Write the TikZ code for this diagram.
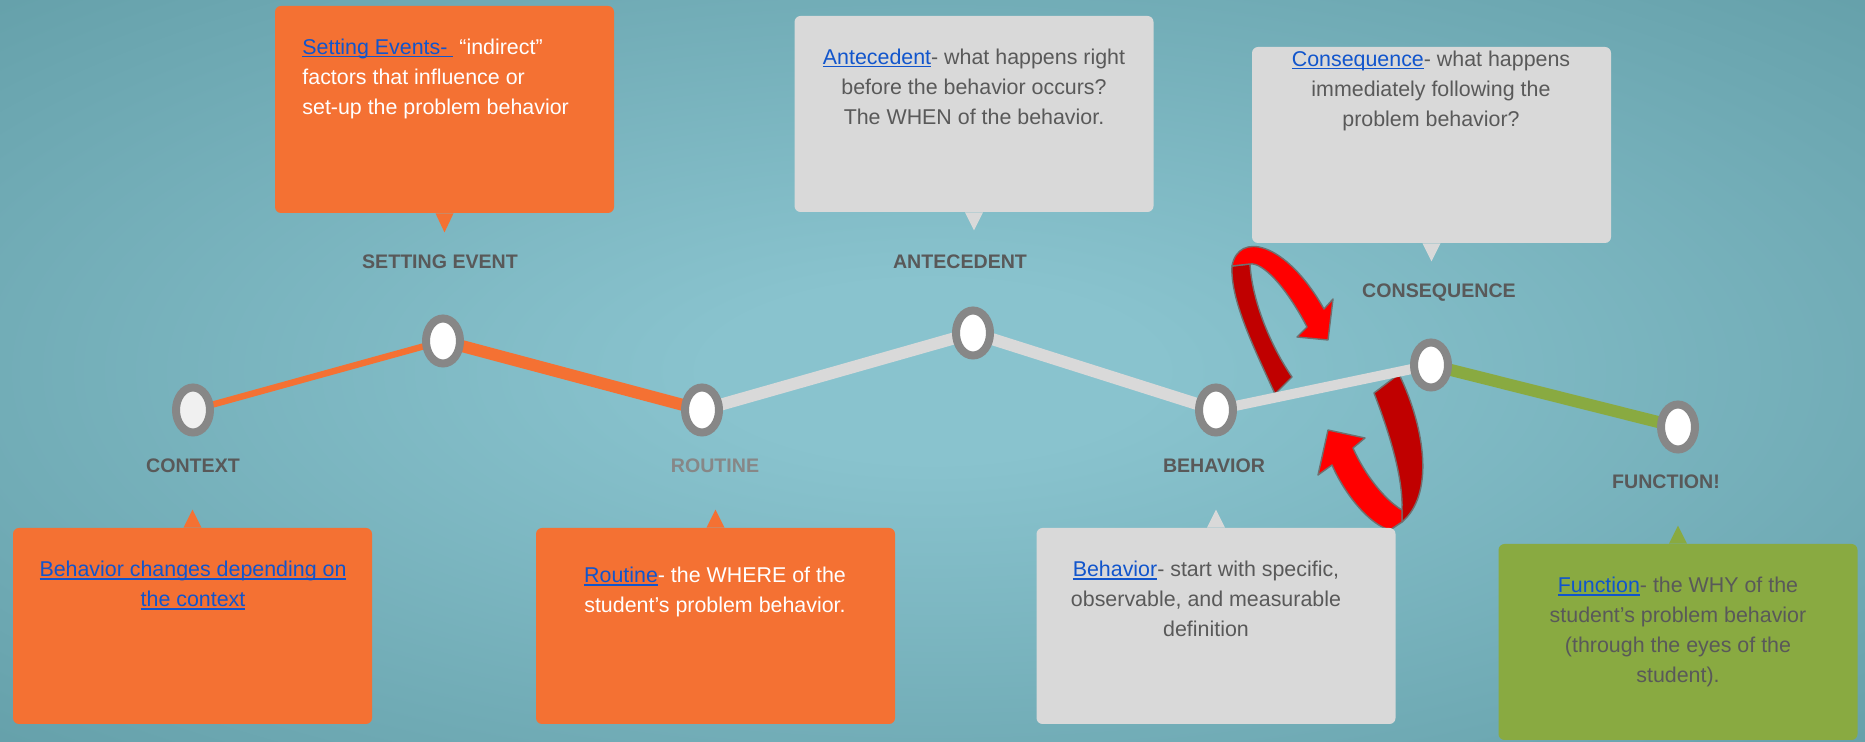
\documentclass[tikz,border=0pt]{standalone}
\usepackage{fontspec}
\setmainfont{Liberation Sans}
\usetikzlibrary{shapes.geometric}

\pgfdeclarelayer{back}
\pgfdeclarelayer{mid}
\pgfsetlayers{back,mid,main}

\definecolor{bginner}{HTML}{89C3CE}
\definecolor{bgouter}{HTML}{4E8A93}
\definecolor{abcorange}{HTML}{F47133}
\definecolor{abcgrey}{HTML}{D9D9D9}
\definecolor{abcgreen}{HTML}{89AA41}
\definecolor{txtgrey}{HTML}{595959}
\definecolor{ringgrey}{HTML}{878787}
\definecolor{linkblue}{HTML}{1155CC}
\definecolor{arrowred}{HTML}{FF0000}
\definecolor{arrowdark}{HTML}{C00000}
\definecolor{arrowedge}{HTML}{6F6F6F}

\pgfdeclareradialshading{bgglow}{\pgfpoint{0bp}{0bp}}{%
  color(0bp)=(bginner); color(6bp)=(bginner); color(55bp)=(bgouter); color(71bp)=(bgouter)}

% underlined link text
\newcommand{\lnk}[1]{{\color{linkblue}\setbox0\hbox{#1}\rlap{\rule[-1.3pt]{\wd0}{0.6pt}}\box0}}

\tikzset{%
	stage/.style={
		ellipse,
		draw=ringgrey,
		fill=white,
		line width=4pt,
		minimum width=17pt,
		minimum height=22.5pt,
		inner sep=0pt
	},
	stagelabel/.style={
		font=\fontsize{9.8}{12}\selectfont\bfseries,
		text=txtgrey,
		inner sep=0pt
	},
	infobox/.style={
		rounded corners=3pt,
		minimum width=179.5pt,
		minimum height=98pt,
		inner sep=0pt
	},
	infotext/.style={
		font=\fontsize{10.7}{15}\selectfont,
		inner sep=0pt,
		anchor=north,
		align=center
	},
	track/.style={line width=6pt, line cap=round},
	ribbon/.style={draw=arrowedge, line width=0.7pt, line join=round},
}

\begin{document}
\begin{tikzpicture}[x=0.5pt, y=-0.5pt]

	\begin{pgfonlayer}{back}
	\shade[shading=bgglow] (0,0) rectangle (1865,742);
	\end{pgfonlayer}
	\useasboundingbox (0,0) rectangle (1865,742);

	% upper boxes
	\node [infobox, fill=abcorange, minimum width=169.5pt, minimum height=103.5pt] (sevbox) at (444.5,109.5) {};
	\fill [abcorange] ([xshift=-4.5pt]sevbox.south) -- ++(9,19) -- ++(9,-19) -- cycle;
	\node [infobox, fill=abcgrey] (antbox) at (974,114) {};
	\fill [abcgrey] ([xshift=-4.5pt]antbox.south) -- ++(9,18) -- ++(9,-18) -- cycle;
	\node [infobox, fill=abcgrey] (conbox) at (1431.5,145) {};
	\fill [abcgrey] ([xshift=-4.5pt]conbox.south) -- ++(9,18) -- ++(9,-18) -- cycle;

	% lower boxes
	\foreach \n/\x/\y/\c in {ctx/192.5/626/abcorange, rou/715.5/626/abcorange, beh/1216/626/abcgrey, fun/1678/642/abcgreen}
	{
		\node [infobox, fill=\c] (\n box) at (\x,\y) {};
		\fill [\c] ([xshift=-4.5pt]\n box.north) -- ++(9,-18) -- ++(9,18) -- cycle;
	}

	\node [infotext, anchor=north west, align=left, text=white] (sevtxt) at (302,39)
	{\lnk{Setting Events-\ }\ “indirect”\\factors that influence or\\set-up the problem behavior};
	\node [infotext, text=txtgrey] (anttxt) at (974,49)
	{\lnk{Antecedent}- what happens right\\before the behavior occurs?\\The WHEN of the behavior.};
	\node [infotext, text=txtgrey] (context) at (1431,51)
	{\lnk{Consequence}- what happens\\immediately following the\\problem behavior?};
	\node [infotext, text=linkblue] (ctxtxt) at (193,561)
	{\lnk{Behavior changes depending on}\\\lnk{the context}};
	\node [infotext, text=white] (routxt) at (715,567)
	{\lnk{Routine}- the WHERE of the\\student’s problem behavior.};
	\node [infotext, text=txtgrey] (behtxt) at (1206,561)
	{\lnk{Behavior}- start with specific,\\observable, and measurable\\definition};
	\node [infotext, text=txtgrey] (funtxt) at (1678,577)
	{\lnk{Function}- the WHY of the\\student’s problem behavior\\(through the eyes of the\\student).};

	% stages
	\node [stage, fill=white!94!black] (ctx) at (193,410) {};
	\node [stage] (sev) at (443,341) {};
	\node [stage] (rou) at (702,410) {};
	\node [stage] (ant) at (973,333) {};
	\node [stage] (beh) at (1216,410) {};
	\node [stage] (con) at (1431,365) {};
	\node [stage] (fun) at (1678,427) {};

	\node [stagelabel] (ctxlabel) at (193,466) {CONTEXT};
	\node [stagelabel] (sevlabel) at (440,262) {SETTING EVENT};
	\node [stagelabel, text=ringgrey] (roulabel) at (715,466) {ROUTINE};
	\node [stagelabel] (antlabel) at (960,262) {ANTECEDENT};
	\node [stagelabel] (behlabel) at (1214,466) {BEHAVIOR};
	\node [stagelabel] (conlabel) at (1439,293) {CONSEQUENCE};
	\node [stagelabel] (funlabel) at (1666,482) {FUNCTION!};

	\begin{pgfonlayer}{mid}
	% red loop around behavior -> consequence
	\filldraw [ribbon, fill=arrowdark] (1275,394) .. controls (1255,350) and (1230,300) .. (1232,266)
		-- (1250,264) .. controls (1252,300) and (1270,345) .. (1292,377) -- cycle;
	\filldraw [ribbon, fill=arrowred] (1232,266) .. controls (1238,232) and (1285,240) .. (1324,309)
		-- (1333,299) -- (1328,340) -- (1297,337) -- (1307,327)
		.. controls (1285,285) and (1262,262) .. (1250,264) -- cycle;
	\filldraw [ribbon, fill=arrowdark] (1374,393) .. controls (1392,440) and (1403,480) .. (1402,510)
		-- (1402,522) .. controls (1434,495) and (1426,430) .. (1399,374) -- cycle;
	\filldraw [ribbon, fill=arrowred] (1402,510) .. controls (1385,500) and (1365,475) .. (1353,448)
		-- (1365,438) -- (1328,430) -- (1318,475) -- (1332,465)
		.. controls (1345,495) and (1370,525) .. (1390,530) -- (1402,522) -- cycle;

	\draw [track, abcorange, line width=3.2pt] (ctx.center) -- (sev.center);
	\draw [track, abcorange] (sev.center) -- (rou.center);
	\draw [track, abcgrey] (rou.center) -- (ant.center);
	\draw [track, abcgrey] (ant.center) -- (beh.center);
	\draw [track, abcgrey, line width=5pt] (beh.center) -- (con.center);
	\draw [track, abcgreen] (con.center) -- (fun.center);
	\end{pgfonlayer}

\end{tikzpicture}
\end{document}
